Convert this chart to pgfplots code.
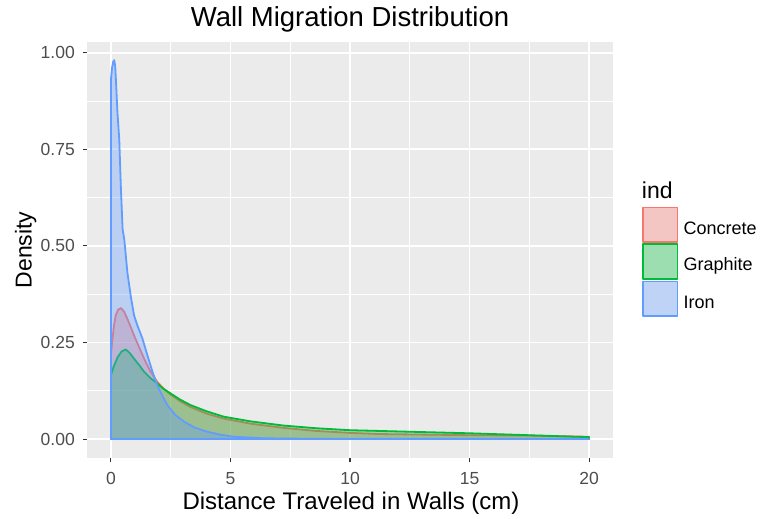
\documentclass[border=0pt]{standalone}
\usepackage{pgfplots}
\pgfplotsset{compat=1.18}
\usepackage{fontspec}
\setmainfont{Liberation Sans}
\definecolor{panelgrey}{HTML}{EBEBEB}
\definecolor{keygrey}{HTML}{F2F2F2}
\definecolor{ticklab}{HTML}{4D4D4D}
\definecolor{tickgrey}{HTML}{333333}
\definecolor{cred}{HTML}{F8766D}
\definecolor{cgreen}{HTML}{00BA38}
\definecolor{cblue}{HTML}{619CFF}
\begin{document}
\begin{tikzpicture}[x=1pt,y=1pt]
\path[use as bounding box] (0,0) rectangle (760,519);
\begin{axis}[
  at={(87pt,61pt)}, anchor=south west,
  width=526pt, height=416pt, scale only axis,
  xmin=-1, xmax=21, ymin=-0.049, ymax=1.028,
  axis background/.style={fill=panelgrey},
  axis line style={draw=none},
  xtick={0,5,10,15,20},
  ytick={0,0.25,0.5,0.75,1},
  minor xtick={2.5,7.5,12.5,17.5},
  minor ytick={0.125,0.375,0.625,0.875},
  grid=both,
  major grid style={draw=white, line width=1.8pt},
  minor grid style={draw=white, line width=0.9pt},
  tick align=outside,
  xtick pos=left, ytick pos=left,
  major tick length=4.5pt, minor tick length=0pt,
  major tick style={draw=tickgrey, line width=1.1pt},
  /pgf/number format/assume math mode=true,
  ticklabel style={font=\fontsize{17.5}{17.5}\selectfont, text=ticklab, inner sep=0pt},
  xticklabel style={anchor=north, yshift=-10pt},
  yticklabel style={anchor=east, xshift=-7.5pt, /pgf/number format/.cd, fixed, fixed zerofill, precision=2},
]
% Concrete
\addplot[draw=cred, line width=1.8pt, line join=round, fill=cred, fill opacity=0.35, draw opacity=1] coordinates {
(0,0) (0,0.215) (0.05,0.25) (0.12,0.29) (0.2,0.32) (0.3,0.335) (0.42,0.339)
(0.55,0.33) (0.69,0.311) (0.83,0.29) (0.97,0.268) (1.2,0.235) (1.39,0.208)
(1.65,0.175) (1.94,0.148) (2.2,0.131) (2.5,0.115) (2.9,0.098) (3.33,0.083)
(4.0,0.066) (4.72,0.053) (5.83,0.040) (7.22,0.029) (8.6,0.021) (10,0.016)
(11.25,0.013) (12.5,0.012) (13.75,0.011) (15,0.010) (16.25,0.0095)
(17.5,0.009) (18.75,0.0075) (20,0.006) (20,0)} \closedcycle;
% Graphite
\addplot[draw=cgreen, line width=1.8pt, line join=round, fill=cgreen, fill opacity=0.35, draw opacity=1] coordinates {
(0,0) (0,0.165) (0.1,0.185) (0.28,0.212) (0.45,0.227) (0.625,0.232)
(0.8,0.222) (0.97,0.208) (1.2,0.19) (1.39,0.174) (1.65,0.158) (1.94,0.144)
(2.2,0.13) (2.5,0.118) (2.9,0.102) (3.33,0.088) (4.0,0.072) (4.72,0.058)
(5.83,0.046) (7.22,0.035) (8.6,0.028) (10,0.023) (11.25,0.021) (12.5,0.019)
(13.75,0.017) (15,0.015) (16.25,0.0125) (17.5,0.010) (18.75,0.0075)
(20,0.005) (20,0)} \closedcycle;
% Iron
\addplot[draw=cblue, line width=1.8pt, line join=round, fill=cblue, fill opacity=0.35, draw opacity=1] coordinates {
(0,0) (0,0.93) (0.05,0.962) (0.1,0.978) (0.14,0.981) (0.18,0.965)
(0.21,0.93) (0.27,0.85) (0.35,0.775) (0.42,0.646) (0.49,0.543) (0.56,0.517)
(0.69,0.431) (0.83,0.37) (0.97,0.32) (1.11,0.294) (1.32,0.26) (1.53,0.216)
(1.74,0.174) (1.94,0.139) (2.15,0.112) (2.36,0.088) (2.7,0.062) (3.06,0.045)
(3.5,0.03) (4.03,0.019) (4.6,0.011) (5.14,0.006) (6.4,0.002) (8,0.001)
(20,0.0005) (20,0)} \closedcycle;
\end{axis}
% titles
\node[anchor=base, inner sep=0pt, font=\fontsize{27.5}{27.5}\selectfont] at (350,492.3) {Wall Migration Distribution};
\node[anchor=base, inner sep=0pt, font=\fontsize{24}{24}\selectfont] at (351,9.7) {Distance Traveled in Walls (cm)};
\node[anchor=base, inner sep=0pt, rotate=90, font=\fontsize{23}{23}\selectfont] at (31.7,269) {Density};
% legend
\node[anchor=base west, inner sep=0pt, font=\fontsize{23}{23}\selectfont] at (641.7,320) {ind};
\foreach \yb/\c/\lab in {275.7/cred/Concrete, 239/cgreen/Graphite, 201.7/cblue/Iron}{
  \fill[keygrey] (641.7,\yb) rectangle (678.4,\yb+36.7);
  \fill[\c, fill opacity=0.35] (642.7,\yb+1) rectangle (677.4,\yb+35.7);
  \draw[\c, line width=1.6pt, line join=round] (642.7,\yb+1) rectangle (677.4,\yb+35.7);
  \node[anchor=base west, inner sep=0pt, font=\fontsize{18}{18}\selectfont] at (683.3,\yb+9) {\lab};
}
\end{tikzpicture}
\end{document}
